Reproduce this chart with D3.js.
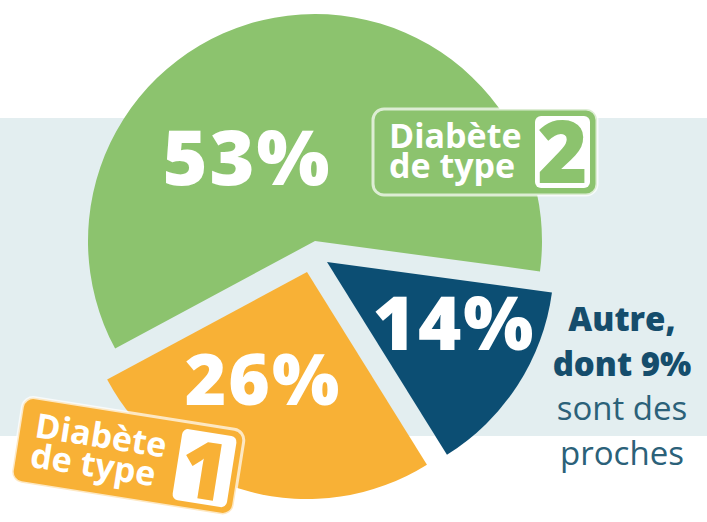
<!DOCTYPE html>
<html>
<head>
<meta charset="utf-8">
<script src="https://cdn.jsdelivr.net/npm/d3@7"></script>
<style>
  html, body { margin: 0; padding: 0; background: #fff; }
  svg { display: block; font-family: "Open Sans", "Noto Sans", sans-serif; }
</style>
</head>
<body>
<div id="chart"></div>
<script>
// ── Data ────────────────────────────────────────────────
var categories = ["Diabète de type 2", "Autre", "Diabète de type 1"];
var percentLabels = [53, 14, 26];          // printed values
var arcShares = [60, 14, 26];              // share of the circle each slice takes in the drawing
var sliceColors = ["#8cc36e", "#0c4e73", "#f8b136"];
var noteLines = [
  { text: "Autre,", bold: true },
  { text: "dont 9%", bold: true },
  { text: "sont des", bold: false },
  { text: "proches", bold: false }
];

// ── Layout ──────────────────────────────────────────────
var W = 707, H = 522;
var center = { x: 315, y: 241 };
var radius = 227;
var startDeg = -118.3;
// explode offsets for each slice (dx, dy)
var explode = [[0, 0], [12, 21], [-8, 31]];
// percent label anchors for each slice (x, baseline, font size)
var labelPos = [[247, 185, 77], [454, 350, 74], [263, 405, 71]];

var svg = d3.select("#chart").append("svg")
  .attr("width", W).attr("height", H);

// light band behind the pie
svg.append("rect")
  .attr("x", 0).attr("y", 118)
  .attr("width", W).attr("height", 318)
  .attr("fill", "#e3eef0");

var pie = d3.pie().sort(null).value(function (d) { return d; })
  .startAngle(startDeg * Math.PI / 180)
  .endAngle(startDeg * Math.PI / 180 + 2 * Math.PI);
var arc = d3.arc().innerRadius(0).outerRadius(radius);
var arcs = pie(arcShares);

var gPie = svg.append("g");
gPie.selectAll("path.slice")
  .data(arcs)
  .join("path")
  .attr("class", "slice")
  .attr("transform", function (d, i) {
    return "translate(" + (center.x + explode[i][0]) + "," + (center.y + explode[i][1]) + ")";
  })
  .attr("fill", function (d, i) { return sliceColors[i]; })
  .attr("d", arc);

// percentages
svg.selectAll("text.pct")
  .data(percentLabels)
  .join("text")
  .attr("class", "pct")
  .attr("x", function (d, i) { return labelPos[i][0]; })
  .attr("y", function (d, i) { return labelPos[i][1]; })
  .attr("text-anchor", "middle")
  .attr("fill", "#fff")
  .attr("font-weight", 800)
  .attr("font-size", function (d, i) { return labelPos[i][2]; })
  .attr("letter-spacing", 2)
  .text(function (d) { return d + "%"; });

// ── Category badges ─────────────────────────────────────
function badge(cx, cy, rot, color, digit, digitSize) {
  var bw = 224, bh = 86;
  var g = svg.append("g")
    .attr("transform", "translate(" + cx + "," + cy + ") rotate(" + rot + ") translate(" + (-bw / 2) + "," + (-bh / 2) + ")");
  g.append("rect")
    .attr("width", bw).attr("height", bh).attr("rx", 11)
    .attr("fill", color)
    .attr("stroke", "rgba(255,255,255,0.7)")
    .attr("stroke-width", 3);
  g.append("rect")
    .attr("x", bw - 62).attr("y", 7)
    .attr("width", 55).attr("height", bh - 14).attr("rx", 6)
    .attr("fill", "#fff");
  g.append("text")
    .attr("x", bw - 34.5).attr("y", bh - 12)
    .attr("text-anchor", "middle")
    .attr("fill", color)
    .attr("font-weight", 800)
    .attr("font-size", digitSize)
    .text(digit);
  g.append("text")
    .attr("x", 16).attr("y", 39)
    .attr("fill", "#fff")
    .attr("font-weight", 700)
    .attr("font-size", 34)
    .text("Diabète");
  g.append("text")
    .attr("x", 16).attr("y", 69)
    .attr("fill", "#fff")
    .attr("font-weight", 700)
    .attr("font-size", 34)
    .text("de type");
}
badge(485, 152, 0, sliceColors[0], "2", 86);
badge(128, 456, 9, sliceColors[2], "1", 80);

// ── Side note for "Autre" ───────────────────────────────
svg.selectAll("text.note")
  .data(noteLines)
  .join("text")
  .attr("class", "note")
  .attr("x", 622)
  .attr("y", function (d, i) { return 331 + i * 44.5; })
  .attr("text-anchor", "middle")
  .attr("fill", function (d) { return d.bold ? "#154d6c" : "#2b6179"; })
  .attr("font-weight", function (d) { return d.bold ? 800 : 400; })
  .attr("font-size", 33)
  .text(function (d) { return d.text; });
</script>
</body>
</html>
